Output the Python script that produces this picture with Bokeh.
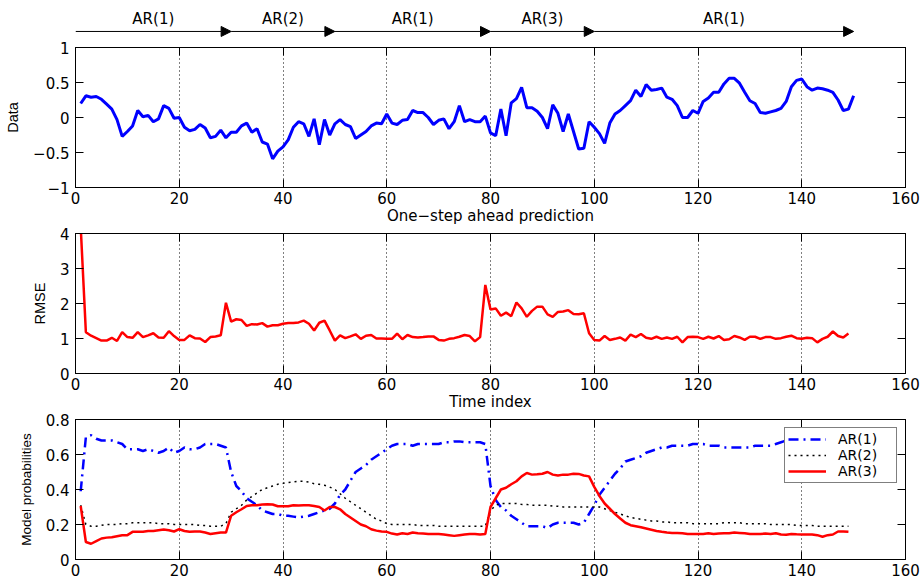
from bokeh.plotting import figure
from bokeh.models import (Range1d, LinearAxis, FixedTicker, ColumnDataSource,
                          Arrow, NormalHead, Legend, LegendItem, CustomLabelingPolicy)
from bokeh.layouts import column
from bokeh.embed import file_html
from bokeh.resources import INLINE
from bokeh.core.properties import value

# ---------------- data ----------------
t_data = list(range(1, 151))
data_vals = [
    0.20, 0.31, 0.29, 0.30, 0.26, 0.19, 0.12, -0.03, -0.27, -0.20,
    -0.12, 0.10, 0.01, 0.03, -0.06, -0.02, 0.17, 0.13, -0.01, 0.00,
    -0.14, -0.19, -0.17, -0.10, -0.15, -0.29, -0.27, -0.18, -0.29, -0.21,
    -0.21, -0.12, -0.08, -0.21, -0.16, -0.35, -0.38, -0.59, -0.48, -0.42,
    -0.32, -0.14, -0.06, -0.09, -0.27, -0.02, -0.39, -0.03, -0.25, -0.09,
    -0.03, -0.10, -0.13, -0.30, -0.25, -0.20, -0.12, -0.08, -0.09, 0.05,
    -0.08, -0.10, -0.04, -0.03, 0.10, 0.07, 0.07, 0.00, -0.10, -0.04,
    -0.02, -0.16, -0.06, 0.17, -0.06, -0.03, -0.06, -0.06, 0.02, -0.22,
    -0.26, 0.12, -0.26, 0.21, 0.27, 0.43, 0.14, 0.14, 0.09, 0.00,
    -0.16, 0.18, 0.06, -0.20, 0.05, -0.20, -0.45, -0.44, -0.06, -0.14,
    -0.23, -0.37, -0.08, 0.05, 0.10, 0.17, 0.24, 0.39, 0.30, 0.47,
    0.39, 0.40, 0.42, 0.29, 0.26, 0.17, 0.00, 0.00, 0.10, 0.06,
    0.23, 0.28, 0.36, 0.36, 0.48, 0.56, 0.56, 0.49, 0.36, 0.24,
    0.20, 0.07, 0.06, 0.08, 0.10, 0.13, 0.23, 0.44, 0.53, 0.55,
    0.44, 0.39, 0.42, 0.41, 0.39, 0.36, 0.25, 0.10, 0.12, 0.31,
]

t_est = list(range(1, 150))
rmse_vals = [
    4.2, 1.18, 1.08, 1.01, 0.94, 0.94, 1.02, 0.93, 1.18, 1.04,
    1.02, 1.18, 1.04, 1.09, 1.15, 1.03, 1.02, 1.21, 1.07, 0.96,
    0.96, 1.09, 1.01, 1.00, 0.90, 1.04, 1.06, 1.09, 2.02, 1.48,
    1.55, 1.53, 1.36, 1.41, 1.40, 1.44, 1.34, 1.38, 1.38, 1.42,
    1.44, 1.44, 1.46, 1.51, 1.42, 1.23, 1.45, 1.51, 1.23, 0.94,
    1.09, 1.01, 1.06, 1.12, 0.99, 1.08, 1.10, 1.00, 1.00, 0.99,
    0.99, 1.14, 0.98, 1.10, 1.04, 1.03, 1.04, 1.06, 1.06, 0.96,
    0.94, 0.99, 1.01, 1.05, 1.10, 1.07, 0.92, 1.04, 2.53, 1.83,
    1.86, 1.65, 1.74, 1.64, 2.03, 1.86, 1.62, 1.79, 1.91, 1.91,
    1.69, 1.62, 1.76, 1.77, 1.81, 1.70, 1.69, 1.72, 1.15, 0.96,
    0.94, 1.07, 0.96, 0.99, 1.03, 0.94, 1.11, 1.04, 1.13, 1.02,
    0.99, 1.05, 0.99, 1.03, 0.99, 1.05, 0.89, 1.04, 1.05, 1.04,
    0.99, 1.05, 1.00, 1.07, 0.96, 0.98, 1.07, 1.03, 0.96, 1.05,
    1.05, 0.99, 1.04, 1.04, 0.99, 1.01, 1.05, 1.08, 1.01, 0.99,
    1.02, 1.01, 0.89, 0.99, 1.05, 1.20, 1.07, 1.03, 1.14,
]

prob_ar1 = [
    0.39, 0.70, 0.71, 0.69, 0.68, 0.68, 0.68, 0.67, 0.66, 0.63,
    0.63, 0.63, 0.62, 0.63, 0.62, 0.61, 0.62, 0.64, 0.61, 0.62,
    0.64, 0.63, 0.63, 0.64, 0.66, 0.66, 0.66, 0.65, 0.64, 0.50,
    0.42, 0.39, 0.35, 0.33, 0.31, 0.28, 0.27, 0.26, 0.26, 0.25,
    0.25, 0.245, 0.24, 0.245, 0.25, 0.26, 0.27, 0.28, 0.29, 0.32,
    0.37, 0.40, 0.45, 0.50, 0.52, 0.54, 0.57, 0.59, 0.61, 0.63,
    0.65, 0.66, 0.66, 0.66, 0.65, 0.66, 0.66, 0.66, 0.66, 0.66,
    0.67, 0.67, 0.675, 0.675, 0.67, 0.67, 0.67, 0.67, 0.66, 0.42,
    0.34, 0.30, 0.28, 0.25, 0.23, 0.21, 0.19, 0.19, 0.19, 0.19,
    0.18, 0.20, 0.21, 0.21, 0.21, 0.21, 0.20, 0.21, 0.26, 0.31,
    0.37, 0.41, 0.45, 0.49, 0.52, 0.56, 0.57, 0.58, 0.59, 0.61,
    0.62, 0.63, 0.64, 0.64, 0.65, 0.65, 0.65, 0.65, 0.66, 0.66,
    0.66, 0.65, 0.65, 0.65, 0.64, 0.64, 0.64, 0.64, 0.64, 0.64,
    0.65, 0.65, 0.65, 0.65, 0.66, 0.67, 0.68, 0.69, 0.69, 0.68,
    0.68, 0.68, 0.69, 0.69, 0.68, 0.68, 0.67, 0.68, 0.68,
]

prob_ar2 = [
    0.31, 0.20, 0.19, 0.19, 0.195, 0.20, 0.20, 0.20, 0.205, 0.205,
    0.21, 0.21, 0.21, 0.21, 0.21, 0.205, 0.205, 0.205, 0.20, 0.20,
    0.20, 0.20, 0.20, 0.195, 0.195, 0.19, 0.19, 0.19, 0.205, 0.27,
    0.29, 0.31, 0.34, 0.36, 0.38, 0.40, 0.41, 0.42, 0.43, 0.435,
    0.44, 0.443, 0.447, 0.447, 0.443, 0.433, 0.43, 0.424, 0.414, 0.40,
    0.376, 0.35, 0.33, 0.31, 0.29, 0.27, 0.25, 0.23, 0.22, 0.205,
    0.20, 0.20, 0.20, 0.20, 0.20, 0.195, 0.195, 0.195, 0.195, 0.19,
    0.19, 0.19, 0.19, 0.19, 0.19, 0.19, 0.19, 0.19, 0.19, 0.28,
    0.31, 0.32, 0.32, 0.32, 0.32, 0.315, 0.315, 0.31, 0.31, 0.31,
    0.31, 0.305, 0.305, 0.30, 0.30, 0.30, 0.30, 0.30, 0.30, 0.30,
    0.30, 0.29, 0.28, 0.27, 0.26, 0.25, 0.24, 0.235, 0.23, 0.225,
    0.22, 0.22, 0.215, 0.215, 0.21, 0.21, 0.21, 0.21, 0.205, 0.205,
    0.205, 0.205, 0.205, 0.205, 0.21, 0.21, 0.21, 0.21, 0.205, 0.205,
    0.205, 0.205, 0.205, 0.20, 0.20, 0.20, 0.20, 0.20, 0.195, 0.195,
    0.195, 0.195, 0.19, 0.19, 0.19, 0.19, 0.19, 0.19, 0.19,
]

prob_ar3 = [
    0.306, 0.10, 0.09, 0.105, 0.12, 0.125, 0.127, 0.133, 0.139, 0.139,
    0.158, 0.158, 0.158, 0.163, 0.163, 0.167, 0.171, 0.167, 0.16, 0.173,
    0.163, 0.158, 0.16, 0.16, 0.154, 0.146, 0.15, 0.154, 0.154, 0.25,
    0.27, 0.287, 0.306, 0.31, 0.31, 0.314, 0.316, 0.314, 0.304, 0.304,
    0.304, 0.31, 0.308, 0.31, 0.31, 0.306, 0.30, 0.28, 0.30, 0.30,
    0.287, 0.26, 0.24, 0.22, 0.20, 0.19, 0.173, 0.165, 0.16, 0.158,
    0.148, 0.143, 0.15, 0.146, 0.154, 0.15, 0.148, 0.146, 0.146, 0.146,
    0.143, 0.139, 0.135, 0.139, 0.143, 0.146, 0.146, 0.143, 0.146, 0.30,
    0.35, 0.40, 0.41, 0.43, 0.447, 0.475, 0.494, 0.485, 0.487, 0.49,
    0.50, 0.485, 0.48, 0.485, 0.485, 0.49, 0.489, 0.48, 0.475, 0.415,
    0.363, 0.32, 0.29, 0.26, 0.234, 0.21, 0.196, 0.19, 0.184, 0.177,
    0.17, 0.163, 0.158, 0.154, 0.152, 0.152, 0.15, 0.146, 0.146, 0.146,
    0.146, 0.15, 0.146, 0.148, 0.15, 0.15, 0.154, 0.152, 0.15, 0.146,
    0.146, 0.146, 0.148, 0.146, 0.15, 0.143, 0.141, 0.146, 0.144, 0.143,
    0.143, 0.143, 0.139, 0.13, 0.139, 0.143, 0.16, 0.16, 0.158,
]

x_ticks = [0, 20, 40, 60, 80, 100, 120, 140, 160]
x_tick_labels = ["0", "20", "40", "60", "80", "100", "120", "140", "160"]
data_ticks = [-1, -0.5, 0, 0.5, 1]
data_tick_labels = ["\u22121", "\u22120.5", "0", "0.5", "1"]
rmse_ticks = [0, 1, 2, 3, 4]
rmse_tick_labels = ["0", "1", "2", "3", "4"]
prob_ticks = [0, 0.2, 0.4, 0.6, 0.8]
prob_tick_labels = ["0", "0.2", "0.4", "0.6", "0.8"]

seg_start = [0, 30, 50, 80, 100]
seg_end = [30, 50, 80, 100, 150]
seg_labels = ["AR(1)", "AR(2)", "AR(1)", "AR(3)", "AR(1)"]

legend_labels = ["AR(1)", "AR(2)", "AR(3)"]

# ---------------- styling helpers ----------------
FONT = "DejaVu Sans"
ROT_FONT = "Liberation Sans"
W = 924
LEFT = 75
RIGHT = 19
TOP = 6

x_range = Range1d(0, 160)

NO_LABELS = "for (const i of indices) { if (false) yield i }"


def style_axis(ax, ticks, labels, show_labels=True):
    ax.ticker = FixedTicker(ticks=ticks)
    ax.major_tick_in = 8
    ax.major_tick_out = 0
    ax.major_tick_line_color = "black"
    ax.minor_tick_line_color = None
    ax.axis_line_color = "black"
    ax.major_label_text_color = "black"
    ax.major_label_text_font = FONT
    if show_labels:
        ax.major_label_overrides = {t: l for t, l in zip(ticks, labels)}
        ax.major_label_text_font_size = "15px"
    else:
        ax.major_label_policy = CustomLabelingPolicy(code=NO_LABELS)
        ax.major_label_text_font_size = "1px"
        ax.major_label_standoff = 0


def make_panel(height, bottom, y0, y1, yticks, ylabels, ylabel, ylabel_size, xlabel):
    p = figure(width=W, height=height, x_range=x_range, y_range=Range1d(y0, y1),
               output_backend="svg", toolbar_location=None,
               min_border_left=LEFT, min_border_right=RIGHT,
               min_border_top=TOP, min_border_bottom=bottom)
    p.background_fill_color = "white"
    p.border_fill_color = "white"
    p.outline_line_color = "black"
    p.outline_line_alpha = 1.0

    xa = p.xaxis[0]
    style_axis(xa, x_ticks, x_tick_labels)
    xa.major_label_standoff = 4
    if xlabel:
        xa.axis_label = xlabel
        xa.axis_label_standoff = 0
        xa.axis_label_text_font = FONT
        xa.axis_label_text_font_size = "15px"
        xa.axis_label_text_font_style = "normal"
        xa.axis_label_text_color = "black"

    ya = p.yaxis[0]
    style_axis(ya, yticks, ylabels)
    ya.major_label_standoff = 6
    ya.axis_label = ylabel
    ya.axis_label_standoff = 9
    ya.axis_label_text_font = ROT_FONT
    ya.axis_label_text_font_size = ylabel_size
    ya.axis_label_text_font_style = "normal"
    ya.axis_label_text_color = "black"

    top_ax = LinearAxis()
    style_axis(top_ax, x_ticks, x_tick_labels, show_labels=False)
    p.add_layout(top_ax, "above")
    right_ax = LinearAxis()
    style_axis(right_ax, yticks, ylabels, show_labels=False)
    p.add_layout(right_ax, "right")

    p.xgrid.ticker = FixedTicker(ticks=x_ticks)
    p.xgrid.grid_line_color = "black"
    p.xgrid.grid_line_dash = "1 3"
    p.xgrid.grid_line_width = 1
    p.ygrid.visible = False
    return p


# ---------------- arrow strip ----------------
ARROW_H = 47 - TOP
pa = figure(width=W, height=ARROW_H, x_range=x_range, y_range=Range1d(0, 1),
            output_backend="svg", toolbar_location=None,
            min_border_left=LEFT, min_border_right=RIGHT,
            min_border_top=0, min_border_bottom=0)
pa.axis.visible = False
pa.grid.visible = False
pa.outline_line_color = None
pa.background_fill_color = "white"
pa.border_fill_color = "white"

arrow_src = ColumnDataSource(dict(x0=seg_start, x1=seg_end,
                                  y=[0.245] * len(seg_start)))
pa.add_layout(Arrow(end=NormalHead(size=10, fill_color="black", line_color="black"),
                    x_start="x0", y_start="y", x_end="x1", y_end="y",
                    source=arrow_src, line_color="black", line_width=1))
label_x = [(a + b) / 2 for a, b in zip(seg_start, seg_end)]
pa.text(x=label_x, y=[0.55] * len(label_x), text=seg_labels,
        text_align="center", text_baseline="middle",
        text_font=value(FONT), text_font_size="15px", text_color="black")

# ---------------- panel 1: data ----------------
p1 = make_panel(186, 39, -1, 1, data_ticks, data_tick_labels, "Data", "14.5px",
                "One\u2212step ahead prediction")
p1.line(t_data, data_vals, line_color="#0000ff", line_width=3)

# ---------------- panel 2: RMSE ----------------
p2 = make_panel(186, 39, 0, 4, rmse_ticks, rmse_tick_labels, "RMSE", "14.5px",
                "Time index")
p2.line(t_est, rmse_vals, line_color="#ff0000", line_width=2.5)

# ---------------- panel 3: model probabilities ----------------
p3 = make_panel(170, 24, 0, 0.8, prob_ticks, prob_tick_labels,
                "Model probabilities", "13.5px", None)
r1 = p3.line(t_est, prob_ar1, line_color="#0000ff", line_width=2.5,
             line_dash="10 5 2 5")
r2 = p3.line(t_est, prob_ar2, line_color="black", line_width=1.5,
             line_dash="2 4")
r3 = p3.line(t_est, prob_ar3, line_color="#ff0000", line_width=2.5)

legend = Legend(items=[LegendItem(label=legend_labels[0], renderers=[r1]),
                       LegendItem(label=legend_labels[1], renderers=[r2]),
                       LegendItem(label=legend_labels[2], renderers=[r3])],
                location="top_right")
legend.margin = 8
legend.padding = 3
legend.spacing = 0
legend.glyph_width = 38
legend.glyph_height = 14
legend.label_height = 14
legend.label_width = 55
legend.label_standoff = 12
legend.label_text_font = FONT
legend.label_text_font_size = "14px"
legend.label_text_color = "black"
legend.border_line_color = "black"
legend.border_line_width = 1
legend.background_fill_color = "white"
legend.background_fill_alpha = 1.0
p3.add_layout(legend)

layout = column(pa, p1, p2, p3, spacing=0)

with open("out.html", "w") as f:
    f.write(file_html(layout, INLINE))
